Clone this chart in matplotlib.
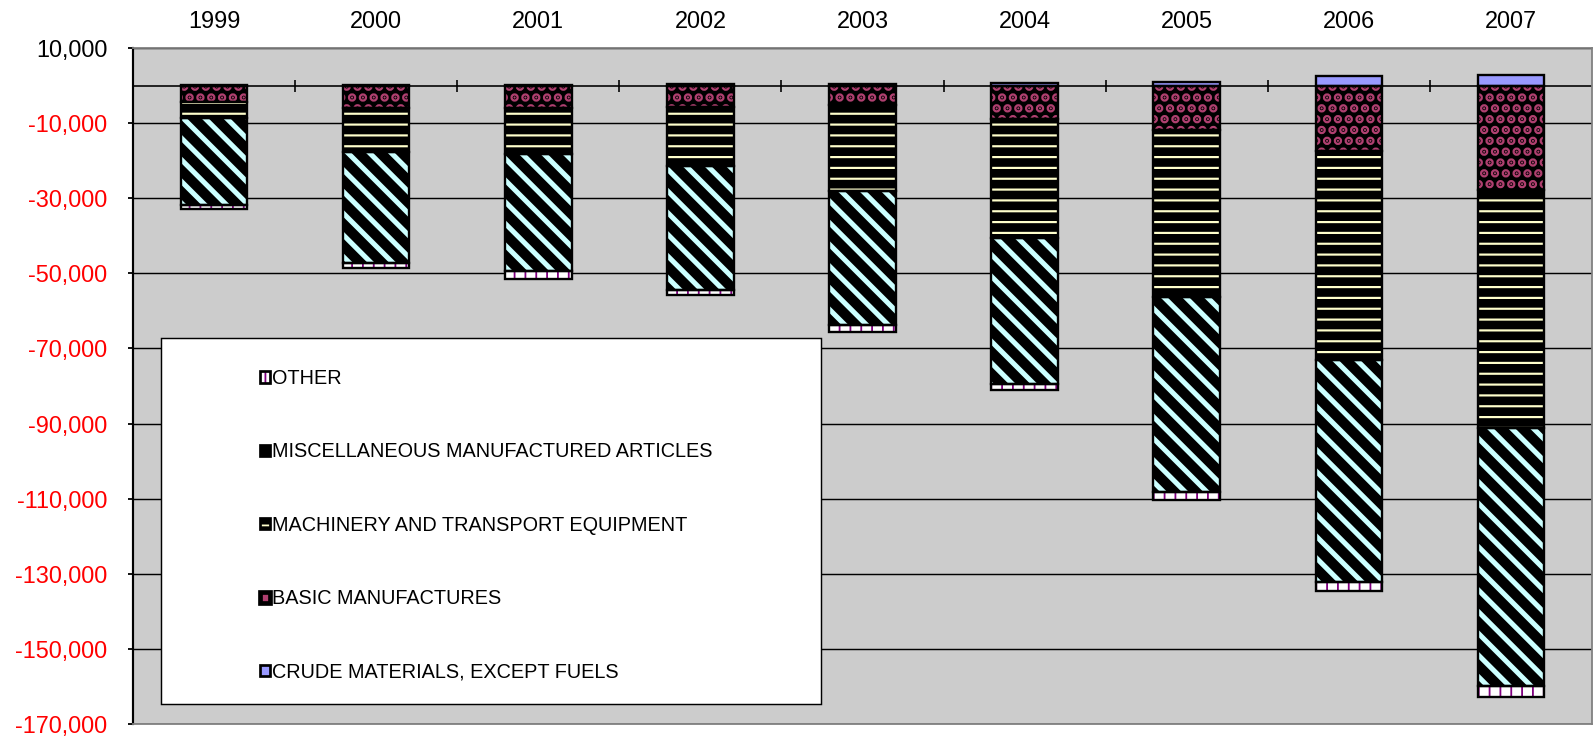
import matplotlib.pyplot as plt
import numpy as np
from matplotlib.patches import Patch, Rectangle
from matplotlib.ticker import FuncFormatter

plt.rcParams['font.family'] = ['Liberation Sans', 'DejaVu Sans']

# Дані, значення
years = ["1999", "2000", "2001", "2002", "2003", "2004", "2005", "2006", "2007"]
crude = [200, 200, 200, 300, 400, 600, 1000, 2500, 2800]
basic = [-4500, -6000, -6000, -5600, -5300, -8800, -11800, -17400, -27800]
machinery = [-4200, -11600, -12200, -15700, -22800, -31700, -44400, -55800, -63400]
misc = [-23000, -29700, -31200, -33100, -35600, -38900, -51900, -58900, -68800]
other = [-1300, -1400, -2000, -1300, -2000, -1700, -2200, -2500, -2700]

# стиль серій: (фон, колір штриховки, штриховка, товщина штриховки)
styles = {
    "CRUDE MATERIALS, EXCEPT FUELS": ("#9999FF", "#9999FF", None, 1.0),
    "BASIC MANUFACTURES": ("black", "#B04070", "..", 3.4),
    "MACHINERY AND TRANSPORT EQUIPMENT": ("black", "#FFFFCC", "--", 1.2),
    "MISCELLANEOUS MANUFACTURED ARTICLES": ("black", "#CCFFFF", "\\\\", 2.8),
    "OTHER": ("white", "#800080", "||", 1.0),
}
series = {
    "CRUDE MATERIALS, EXCEPT FUELS": crude,
    "BASIC MANUFACTURES": basic,
    "MACHINERY AND TRANSPORT EQUIPMENT": machinery,
    "MISCELLANEOUS MANUFACTURED ARTICLES": misc,
    "OTHER": other,
}

dpi = 130
fig = plt.figure(figsize=(1595 / dpi, 742 / dpi), dpi=dpi)
ax = fig.add_axes([133 / 1595, 1 - 724 / 742, (1592 - 133) / 1595, (724 - 48) / 742])
ax.set_facecolor("#CCCCCC")

x = np.arange(len(years))
width = 0.41


def hatched_bar(xs, h, b, bg, hc, hatch, hlw):
    with plt.rc_context({"hatch.linewidth": hlw}):
        bars = ax.bar(xs, h, width, bottom=b, color=bg, edgecolor=hc,
                      hatch=hatch, linewidth=0, zorder=3)
    for p in bars:
        if hasattr(p, "set_hatch_linewidth"):
            p.set_hatch_linewidth(hlw)
    ax.bar(xs, h, width, bottom=b, fill=False, edgecolor="black",
           linewidth=1.3, zorder=4)


neg_bottom = np.zeros(len(years))
for name, vals in series.items():
    vals = np.array(vals, dtype=float)
    bg, hc, hatch, hlw = styles[name]
    if name.startswith("CRUDE"):
        hatched_bar(x, vals, np.zeros(len(years)), bg, hc, hatch, hlw)
    else:
        hatched_bar(x, vals, neg_bottom, bg, hc, hatch, hlw)
        neg_bottom = neg_bottom + vals

ax.set_xlim(-0.5, len(years) - 0.5)
ax.set_ylim(-170000, 10000)
yt = np.arange(10000, -170001, -20000)
ax.set_yticks(yt)
ax.yaxis.set_major_formatter(FuncFormatter(lambda v, p: f"{v:,.0f}"))
ax.tick_params(axis="y", length=2.8, width=1, pad=11.5, labelsize=13, direction="out")
for lbl, v in zip(ax.get_yticklabels(), yt):
    lbl.set_color("black" if v > 0 else "#FF0000")
ax.grid(axis="y", color="black", linewidth=0.8, zorder=1)
ax.set_axisbelow(True)

# категорії зверху
ax.xaxis.tick_top()
ax.set_xticks(x)
ax.set_xticklabels(years)
ax.tick_params(axis="x", length=0, pad=8.5, labelsize=13)

# вісь категорій на нулі з поділками
ax.axhline(0, color="black", linewidth=0.9, zorder=2)
ax.plot(np.arange(len(years) - 1) + 0.5, np.zeros(len(years) - 1), "|",
        color="black", markersize=7, markeredgewidth=0.9, zorder=2)

ax.spines["left"].set_color("black")
ax.spines["left"].set_linewidth(1.2)
for s in ["top", "right", "bottom"]:
    ax.spines[s].set_color("#808080")
    ax.spines[s].set_linewidth(1.0)

# легенда
fig.patches.append(Rectangle((161 / 1595, 1 - 704 / 742), 660 / 1595, 366 / 742,
                             transform=fig.transFigure, facecolor="white",
                             edgecolor="black", linewidth=0.8, zorder=5))
handles = []
labels = []
for name in reversed(list(series.keys())):
    bg, hc, hatch, hlw = styles[name]
    if name == "BASIC MANUFACTURES":
        handles.append(Patch(facecolor=hc, edgecolor="black", linewidth=2.6))
    else:
        handles.append((Patch(facecolor=bg, edgecolor=hc, hatch=hatch, linewidth=0),
                        Patch(fill=False, edgecolor="black", linewidth=1.5)))
    labels.append(name)
leg = fig.legend(handles, labels, loc="upper left",
                 bbox_to_anchor=(260 / 1595, 1 - 369 / 742),
                 frameon=False, fontsize=11, handlelength=0.5,
                 handleheight=0.5, handletextpad=0.1, labelspacing=2.74,
                 borderpad=0, borderaxespad=0)
leg.set_zorder(6)

fig.savefig("out.png", dpi=dpi)
